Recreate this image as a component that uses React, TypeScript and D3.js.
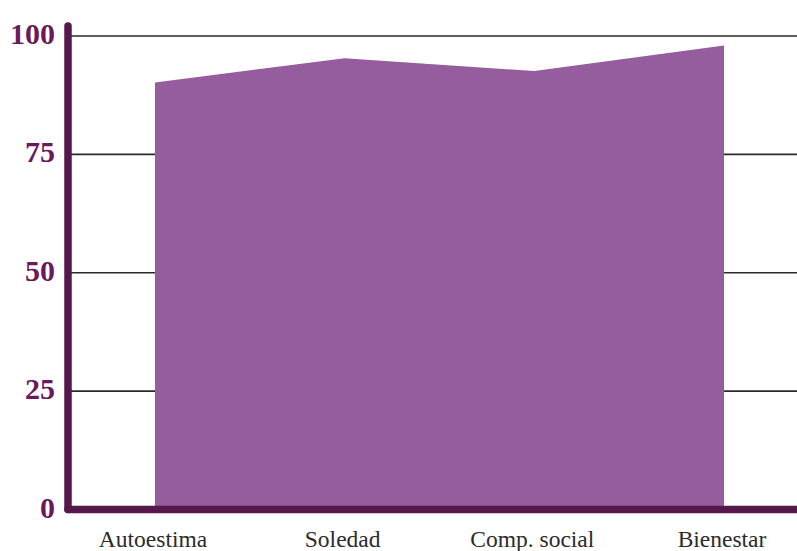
import React from "react";
import * as d3 from "d3";

// Scores per dimension
const categories = ["Autoestima", "Soledad", "Comp. social", "Bienestar"];
const values = [90.2, 95.3, 92.6, 98];
const yTicks = [0, 25, 50, 75, 100];

const W = 797;
const H = 551;

export default function App() {
  const x = d3.scalePoint<string>().domain(categories).range([155, 724]);
  const y = d3.scaleLinear().domain([0, 100]).range([509.5, 36]);

  const data = categories.map((c, i) => ({ c, v: values[i] }));
  const area = d3
    .area<{ c: string; v: number }>()
    .x((d) => x(d.c) as number)
    .y0(y(0))
    .y1((d) => y(d.v));

  const axisColor = "#55184a";
  const labelColor = "#6a1a5c";

  return (
    <svg
      width={W}
      height={H}
      style={{ position: "absolute", left: 0, top: 0, background: "#fff" }}
    >
      {/* grid lines */}
      {yTicks
        .filter((t) => t > 0)
        .map((t) => (
          <line
            key={t}
            x1={68}
            x2={W}
            y1={y(t)}
            y2={y(t)}
            stroke="#2a2a2a"
            strokeWidth={1.6}
          />
        ))}
      {/* filled area */}
      <path d={area(data) || ""} fill="#955c9e" />
      {/* axes */}
      <line
        x1={68}
        x2={68}
        y1={26}
        y2={509.5}
        stroke={axisColor}
        strokeWidth={7.5}
        strokeLinecap="round"
      />
      <line
        x1={68}
        x2={W + 5}
        y1={509.5}
        y2={509.5}
        stroke={axisColor}
        strokeWidth={7.5}
        strokeLinecap="round"
      />
      {/* y tick labels */}
      {yTicks.map((t) => (
        <text
          key={t}
          x={55}
          y={y(t) + 8}
          textAnchor="end"
          fontFamily="'Liberation Serif', 'DejaVu Serif', serif"
          fontWeight="bold"
          fontSize={30}
          fill={labelColor}
        >
          {t}
        </text>
      ))}
      {/* category labels */}
      {categories.map((c) => (
        <text
          key={c}
          x={(x(c) as number) - 2}
          y={547}
          textAnchor="middle"
          fontFamily="'Liberation Serif', 'DejaVu Serif', serif"
          fontSize={23.5}
          fill="#2b2b2b"
        >
          {c}
        </text>
      ))}
    </svg>
  );
}
